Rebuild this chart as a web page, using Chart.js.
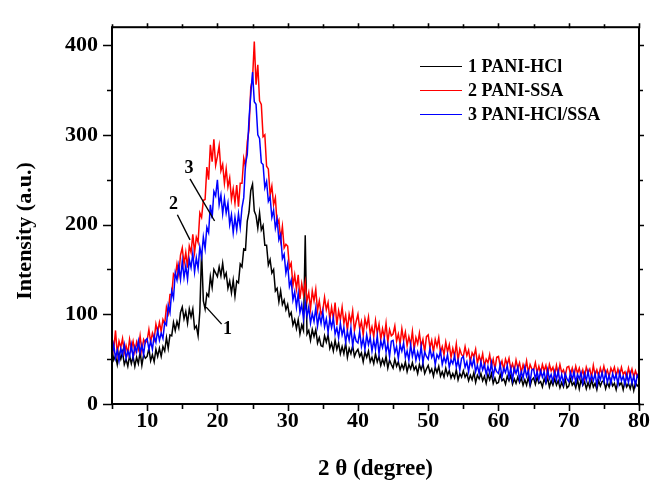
<!DOCTYPE html>
<html>
<head>
<meta charset="utf-8">
<script src="https://cdn.jsdelivr.net/npm/chart.js@4.4.1/dist/chart.umd.min.js"></script>
<style>
  html, body { margin: 0; padding: 0; background: #fff; }
  #wrap { width: 654px; height: 481px; }
</style>
</head>
<body>
<div id="wrap"><canvas id="xrd" width="654" height="481"></canvas></div>
<script>
// 2θ sampling grid (degrees), 0.25° step from 5° to 80°
const TWO_THETA = Array.from({ length: 301 }, (_, i) => 5 + i * 0.25);

// Intensity (a.u.) at each grid point; one row = 5°
const PANI_HCL = [
  61, 49, 54, 44, 57, 50, 58, 44, 50, 42, 54, 45, 53, 42, 52, 45, 58, 43, 55, 51,
  53, 62, 48, 55, 47, 61, 53, 62, 53, 64, 59, 74, 62, 77, 76, 91, 82, 92, 85, 102,
  108, 95, 103, 90, 106, 97, 106, 84, 87, 76, 103, 170, 115, 106, 123, 120, 142, 130, 150, 146,
  142, 153, 143, 157, 141, 146, 129, 137, 124, 138, 120, 137, 135, 156, 153, 173, 172, 204, 214, 238,
  245, 215, 210, 196, 213, 194, 199, 177, 177, 155, 161, 146, 150, 126, 129, 114, 126, 111, 116, 105,
  111, 98, 102, 88, 94, 84, 94, 78, 88, 82, 188, 78, 82, 71, 83, 75, 83, 68, 74, 65,
  64, 76, 69, 77, 62, 68, 59, 71, 61, 68, 56, 64, 56, 68, 52, 62, 56, 65, 53, 58,
  61, 53, 57, 47, 58, 52, 59, 47, 52, 45, 56, 47, 53, 43, 50, 44, 53, 40, 49, 44,
  40, 50, 42, 47, 38, 44, 39, 47, 36, 44, 39, 46, 38, 42, 34, 44, 38, 45, 34, 39,
  43, 35, 39, 31, 41, 35, 42, 31, 36, 30, 40, 32, 37, 29, 34, 29, 38, 27, 34, 30,
  37, 30, 34, 26, 32, 27, 35, 24, 32, 28, 34, 26, 31, 23, 33, 27, 34, 23, 29, 23,
  24, 33, 26, 28, 22, 31, 26, 32, 22, 28, 23, 30, 24, 29, 21, 27, 21, 30, 20, 27,
  29, 22, 30, 23, 25, 19, 28, 23, 29, 19, 26, 21, 28, 21, 26, 18, 24, 19, 28, 18,
  20, 28, 21, 24, 18, 27, 17, 27, 21, 25, 17, 24, 18, 27, 19, 23, 16, 26, 20, 25,
  26, 17, 24, 19, 27, 20, 23, 16, 26, 21, 24, 16, 26, 19, 23, 17, 25, 15, 24, 20,
  22
];
const PANI_SSA = [
  74, 61, 82, 56, 70, 63, 73, 57, 65, 56, 72, 61, 70, 58, 69, 61, 76, 59, 72, 68,
  71, 83, 69, 79, 72, 89, 80, 91, 81, 94, 89, 108, 101, 122, 122, 145, 142, 156, 144, 166,
  174, 156, 169, 152, 176, 169, 189, 169, 186, 180, 213, 208, 227, 228, 264, 250, 289, 270, 295, 266,
  276, 288, 260, 267, 246, 262, 242, 252, 228, 240, 224, 244, 220, 246, 246, 274, 265, 292, 306, 353,
  362, 404, 356, 378, 338, 334, 298, 300, 265, 262, 233, 243, 222, 230, 200, 205, 183, 198, 174, 178,
  176, 152, 157, 132, 144, 128, 144, 117, 134, 122, 136, 115, 124, 106, 126, 115, 128, 104, 115, 100,
  104, 119, 105, 113, 94, 108, 95, 113, 88, 104, 94, 108, 90, 99, 82, 100, 91, 104, 82, 92,
  100, 84, 92, 77, 95, 86, 97, 78, 86, 75, 93, 79, 89, 72, 84, 74, 90, 69, 83, 76,
  78, 87, 70, 78, 67, 84, 71, 80, 65, 75, 66, 81, 61, 74, 67, 79, 64, 72, 58, 75,
  77, 63, 71, 58, 72, 64, 74, 57, 64, 55, 69, 58, 66, 52, 62, 53, 67, 49, 61, 55,
  53, 64, 54, 60, 47, 57, 53, 61, 45, 54, 47, 56, 42, 50, 46, 55, 42, 50, 39, 52,
  53, 42, 48, 38, 50, 44, 51, 39, 45, 37, 49, 40, 46, 35, 44, 37, 48, 35, 44, 39,
  38, 46, 35, 42, 34, 44, 37, 43, 32, 44, 37, 41, 32, 43, 33, 44, 35, 38, 31, 41,
  42, 33, 40, 31, 42, 34, 40, 31, 38, 29, 41, 35, 39, 30, 43, 32, 38, 31, 40, 33,
  42, 33, 38, 30, 40, 35, 41, 31, 39, 32, 41, 33, 36, 29, 40, 32, 39, 30, 37, 31,
  35
];
const PANI_HCL_SSA = [
  54, 66, 51, 60, 48, 62, 55, 66, 51, 59, 53, 66, 52, 64, 58, 70, 57, 66, 55, 71,
  73, 61, 70, 61, 76, 69, 82, 71, 79, 73, 91, 88, 110, 102, 126, 118, 146, 138, 154, 139,
  159, 141, 154, 139, 161, 152, 168, 147, 163, 151, 175, 164, 186, 173, 197, 191, 222, 207, 237, 232,
  250, 222, 233, 212, 229, 213, 224, 200, 211, 191, 208, 194, 212, 197, 219, 230, 268, 278, 318, 345,
  370, 337, 334, 300, 296, 269, 267, 241, 248, 226, 231, 208, 216, 196, 206, 183, 189, 162, 167, 146,
  156, 131, 138, 116, 125, 108, 123, 102, 111, 95, 113, 98, 108, 90, 101, 92, 107, 87, 100, 90,
  103, 86, 95, 80, 95, 85, 96, 78, 85, 74, 90, 77, 85, 69, 81, 71, 85, 65, 78, 70,
  68, 81, 64, 73, 61, 77, 66, 74, 59, 71, 61, 76, 56, 70, 63, 73, 58, 67, 53, 70,
  71, 57, 64, 51, 66, 59, 68, 52, 59, 49, 66, 53, 62, 49, 58, 50, 64, 46, 58, 53,
  50, 62, 52, 57, 44, 55, 51, 59, 44, 52, 46, 55, 41, 49, 45, 54, 41, 49, 38, 51,
  53, 41, 47, 36, 49, 42, 51, 36, 43, 34, 47, 38, 44, 33, 42, 34, 46, 31, 41, 36,
  34, 44, 30, 40, 35, 43, 30, 40, 27, 40, 34, 41, 27, 36, 29, 41, 31, 37, 24, 38,
  39, 28, 36, 27, 37, 30, 36, 25, 38, 28, 33, 25, 36, 27, 37, 25, 33, 23, 34, 28,
  25, 35, 27, 36, 24, 33, 28, 35, 23, 34, 26, 36, 25, 32, 26, 34, 21, 33, 27, 35,
  25, 35, 24, 32, 23, 34, 27, 33, 22, 35, 26, 31, 22, 33, 24, 34, 23, 31, 21, 32,
  28
];

const SERIES_LABELS = ['1 PANI-HCl', '2 PANI-SSA', '3 PANI-HCl/SSA'];
const SERIES_COLORS = ['#000000', '#ff0000', '#0000ff'];

const X_MIN = 5, X_MAX = 80, X_MAJOR = 10, X_MINOR = 5;
const Y_MIN = 0, Y_MAX = 420, Y_MAJOR = 100, Y_MINOR = 50;

// Curve markers: label text, label position and leader line (data units)
const MARKERS = [
  { text: '1', at: [21.45, 83],  from: [18.4, 108], to: [20.6, 89] },
  { text: '2', at: [13.75, 223], from: [14.3, 211], to: [16.1, 183] },
  { text: '3', at: [15.95, 263], from: [16.1, 251], to: [19.6, 204] }
];

const SERIF = '"Liberation Serif", "Times New Roman", serif';

function toPoints(values) {
  return values.map((v, i) => ({ x: TWO_THETA[i], y: v }));
}

const frameAndNotes = {
  id: 'frameAndNotes',
  afterDraw(chart) {
    const { ctx, chartArea: a, scales: { x, y } } = chart;
    ctx.save();
    ctx.strokeStyle = '#000';
    ctx.fillStyle = '#000';

    // frame
    ctx.lineWidth = 2;
    ctx.strokeRect(a.left, a.top, a.right - a.left, a.bottom - a.top);

    // tick marks on all four sides
    ctx.lineWidth = 1.6;
    ctx.beginPath();
    for (let v = X_MIN; v <= X_MAX + 1e-9; v += X_MINOR) {
      const px = Math.round(x.getPixelForValue(v)) + 0.5;
      const major = v % X_MAJOR === 0;
      const len = major ? 7 : 5;
      ctx.moveTo(px, a.bottom - 1); ctx.lineTo(px, a.bottom + len);
      ctx.moveTo(px, a.top + 1); ctx.lineTo(px, a.top - (major ? 4 : 3));
    }
    for (let v = Y_MIN; v <= Y_MAX + 1e-9; v += Y_MINOR) {
      const py = Math.round(y.getPixelForValue(v)) + 0.5;
      const major = v % Y_MAJOR === 0;
      ctx.moveTo(a.left + 1, py); ctx.lineTo(a.left - (major ? 9 : 5), py);
      ctx.moveTo(a.right - 1, py); ctx.lineTo(a.right + (major ? 5 : 4), py);
    }
    ctx.stroke();

    // y-axis title
    ctx.save();
    ctx.translate(25, 231);
    ctx.rotate(-Math.PI / 2);
    ctx.font = 'bold 22px ' + SERIF;
    ctx.textAlign = 'center';
    ctx.textBaseline = 'middle';
    ctx.fillText('Intensity (a.u.)', 0, 0);
    ctx.restore();

    // legend
    ctx.font = 'bold 18px ' + SERIF;
    ctx.textAlign = 'left';
    ctx.textBaseline = 'middle';
    const rows = [66.5, 90.5, 114.5];
    SERIES_LABELS.forEach((label, i) => {
      ctx.strokeStyle = SERIES_COLORS[i];
      ctx.lineWidth = 1.2;
      ctx.beginPath();
      ctx.moveTo(420, rows[i]);
      ctx.lineTo(462, rows[i]);
      ctx.stroke();
      ctx.fillStyle = '#000';
      ctx.fillText(label, 468, rows[i] + 1);
    });

    // curve markers with leader lines
    ctx.strokeStyle = '#000';
    ctx.lineWidth = 1.4;
    ctx.font = 'bold 18px ' + SERIF;
    ctx.textAlign = 'center';
    MARKERS.forEach(m => {
      ctx.beginPath();
      ctx.moveTo(x.getPixelForValue(m.from[0]), y.getPixelForValue(m.from[1]));
      ctx.lineTo(x.getPixelForValue(m.to[0]), y.getPixelForValue(m.to[1]));
      ctx.stroke();
      ctx.fillText(m.text, x.getPixelForValue(m.at[0]), y.getPixelForValue(m.at[1]));
    });
    ctx.restore();
  }
};

const makeSet = (i, values, order) => ({
  label: SERIES_LABELS[i],
  data: toPoints(values),
  borderColor: SERIES_COLORS[i],
  borderWidth: 1.5,
  pointRadius: 0,
  tension: 0,
  fill: false,
  order
});

new Chart(document.getElementById('xrd'), {
  type: 'line',
  data: {
    datasets: [
      makeSet(0, PANI_HCL, 3),
      makeSet(1, PANI_SSA, 2),
      makeSet(2, PANI_HCL_SSA, 1)
    ]
  },
  options: {
    responsive: false,
    animation: false,
    devicePixelRatio: 1,
    layout: { padding: { left: 0, right: 11, top: 16, bottom: 0 } },
    plugins: { legend: { display: false }, tooltip: { enabled: false } },
    scales: {
      x: {
        type: 'linear',
        min: X_MIN, max: X_MAX,
        grid: { display: false, drawTicks: false },
        border: { display: false },
        ticks: {
          stepSize: X_MAJOR, includeBounds: false, padding: 4,
          color: '#000', font: { family: SERIF, size: 22, weight: 'bold' },
          maxRotation: 0
        },
        title: {
          display: true, text: '2 θ (degree)', color: '#000',
          font: { family: SERIF, size: 23, weight: 'bold', lineHeight: 1 },
          padding: { top: 0, bottom: 0 }
        },
        afterFit(scale) { scale.height = 77; }
      },
      y: {
        type: 'linear',
        min: Y_MIN, max: Y_MAX,
        grid: { display: false, drawTicks: false },
        border: { display: false },
        ticks: {
          stepSize: Y_MAJOR, includeBounds: false, padding: 14,
          color: '#000', font: { family: SERIF, size: 22, weight: 'bold' }
        },
        afterFit(scale) { scale.width = 112; }
      }
    }
  },
  plugins: [frameAndNotes]
});
</script>
</body>
</html>
